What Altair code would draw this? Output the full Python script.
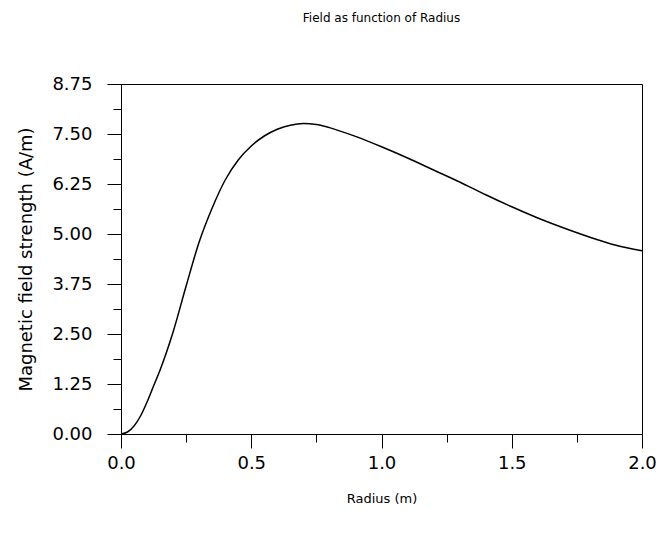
import altair as alt
import pandas as pd

radius = [0.0, 0.025, 0.05, 0.075, 0.1, 0.125, 0.15, 0.175, 0.2, 0.25, 0.3, 0.35,
          0.4, 0.45, 0.5, 0.55, 0.6, 0.65, 0.7, 0.75, 0.8, 0.9, 1.0, 1.1, 1.2,
          1.3, 1.4, 1.5, 1.6, 1.7, 1.8, 1.9, 2.0]
field = [0.0, 0.05, 0.2, 0.45, 0.8, 1.2, 1.6, 2.05, 2.55, 3.7, 4.8, 5.65,
         6.35, 6.85, 7.2, 7.45, 7.62, 7.72, 7.76, 7.74, 7.66, 7.44, 7.18, 6.9, 6.6,
         6.3, 5.98, 5.68, 5.4, 5.15, 4.92, 4.72, 4.58]

x_major = [0.0, 0.5, 1.0, 1.5, 2.0]
x_minor = [0.25, 0.75, 1.25, 1.75]
y_major = [0.0, 1.25, 2.5, 3.75, 5.0, 6.25, 7.5, 8.75]
y_minor = [0.625, 1.875, 3.125, 4.375, 5.625, 6.875, 8.125]

title_text = "Field as function of Radius"
x_title = "Radius (m)"
y_title = "Magnetic field strength (A/m)"

df = pd.DataFrame({"r": radius, "h": field})

FONT = "DejaVu Sans"
xs = alt.Scale(domain=[0, 2], nice=False, zero=False)
ys = alt.Scale(domain=[0, 8.75], nice=False, zero=False)

line = alt.Chart(df).mark_line(color="black", strokeWidth=1.5, interpolate="monotone").encode(
    x=alt.X("r:Q", scale=xs, axis=alt.Axis(
        values=x_major, format=".1f", title=x_title, orient="bottom",
        grid=False, tickSize=14, tickColor="black", domainColor="black",
        labelFont=FONT, labelFontSize=18, labelColor="black", labelPadding=6,
        labelFlush=False,
        titleFont=FONT, titleFontSize=13, titleFontWeight="normal", titleColor="black",
        titlePadding=20)),
    y=alt.Y("h:Q", scale=ys, axis=alt.Axis(
        values=y_major, format=".2f", title=y_title, orient="left",
        grid=False, tickSize=14, tickColor="black", domainColor="black",
        labelFont=FONT, labelFontSize=18, labelColor="black", labelPadding=15,
        labelFlush=False,
        titleFont=FONT, titleFontSize=18, titleFontWeight="normal", titleColor="black",
        titlePadding=16)),
)

minor = alt.Chart(df).mark_line(opacity=0).encode(
    x=alt.X("r:Q", scale=xs, axis=alt.Axis(
        values=x_minor, labels=False, title="", orient="bottom", domain=False,
        grid=False, tickSize=8, tickColor="black")),
    y=alt.Y("h:Q", scale=ys, axis=alt.Axis(
        values=y_minor, labels=False, title="", orient="left", domain=False,
        grid=False, tickSize=8, tickColor="black")),
)

chart = alt.layer(line, minor).resolve_axis(x="independent", y="independent").properties(
    width=521, height=350,
    background="white",
    title=alt.TitleParams(title_text, font=FONT, fontSize=12, fontWeight="normal",
                          color="black", anchor="middle", offset=50),
    autosize=alt.AutoSizeParams(type="none"),
    padding={"left": 113, "top": 76, "right": 14, "bottom": 95},
).configure_view(stroke="black", strokeWidth=1)

chart.save("out.html", embed_options={"renderer": "svg", "actions": False})
